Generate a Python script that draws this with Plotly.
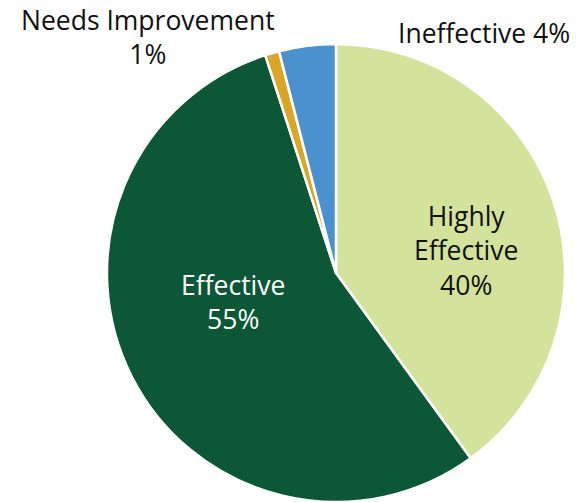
import plotly.graph_objects as go

# Rating distribution
categories = ["Highly Effective", "Effective", "Needs Improvement", "Ineffective"]
shares = [40, 55, 1, 4]
colors = ["#d3e39c", "#0b5736", "#dba626", "#4a91cd"]

W, H = 580, 502

fig = go.Figure(
    go.Pie(
        labels=categories,
        values=shares,
        sort=False,
        direction="clockwise",
        rotation=0,
        marker=dict(colors=colors, line=dict(color="white", width=2.5)),
        textinfo="none",
        hoverinfo="label+percent",
        showlegend=False,
        domain=dict(x=[0.1810, 0.9776], y=[0.0, 0.9124]),
    )
)

font = dict(family="Open Sans", size=26.5, color="#111111")

# label text and placement per slice (paper pixels from top-left)
label_text = [
    "Highly<br>Effective<br>{}%".format(shares[0]),
    "Effective<br>{}%".format(shares[1]),
    "Needs Improvement<br>{}%".format(shares[2]),
    "Ineffective {}%".format(shares[3]),
]
label_xy = [(466, 250), (233, 302), (148, 37), (484, 33)]
label_color = ["#111111", "#ffffff", "#111111", "#111111"]

for txt, (px, py), col in zip(label_text, label_xy, label_color):
    fig.add_annotation(
        x=px / W, y=1 - py / H, xref="paper", yref="paper",
        text=txt, showarrow=False, xanchor="center", yanchor="middle",
        font=dict(font, color=col), align="center",
    )

fig.update_layout(
    width=W, height=H,
    margin=dict(l=0, r=0, t=0, b=0),
    paper_bgcolor="white",
    plot_bgcolor="white",
)

fig.write_html("out.html")
